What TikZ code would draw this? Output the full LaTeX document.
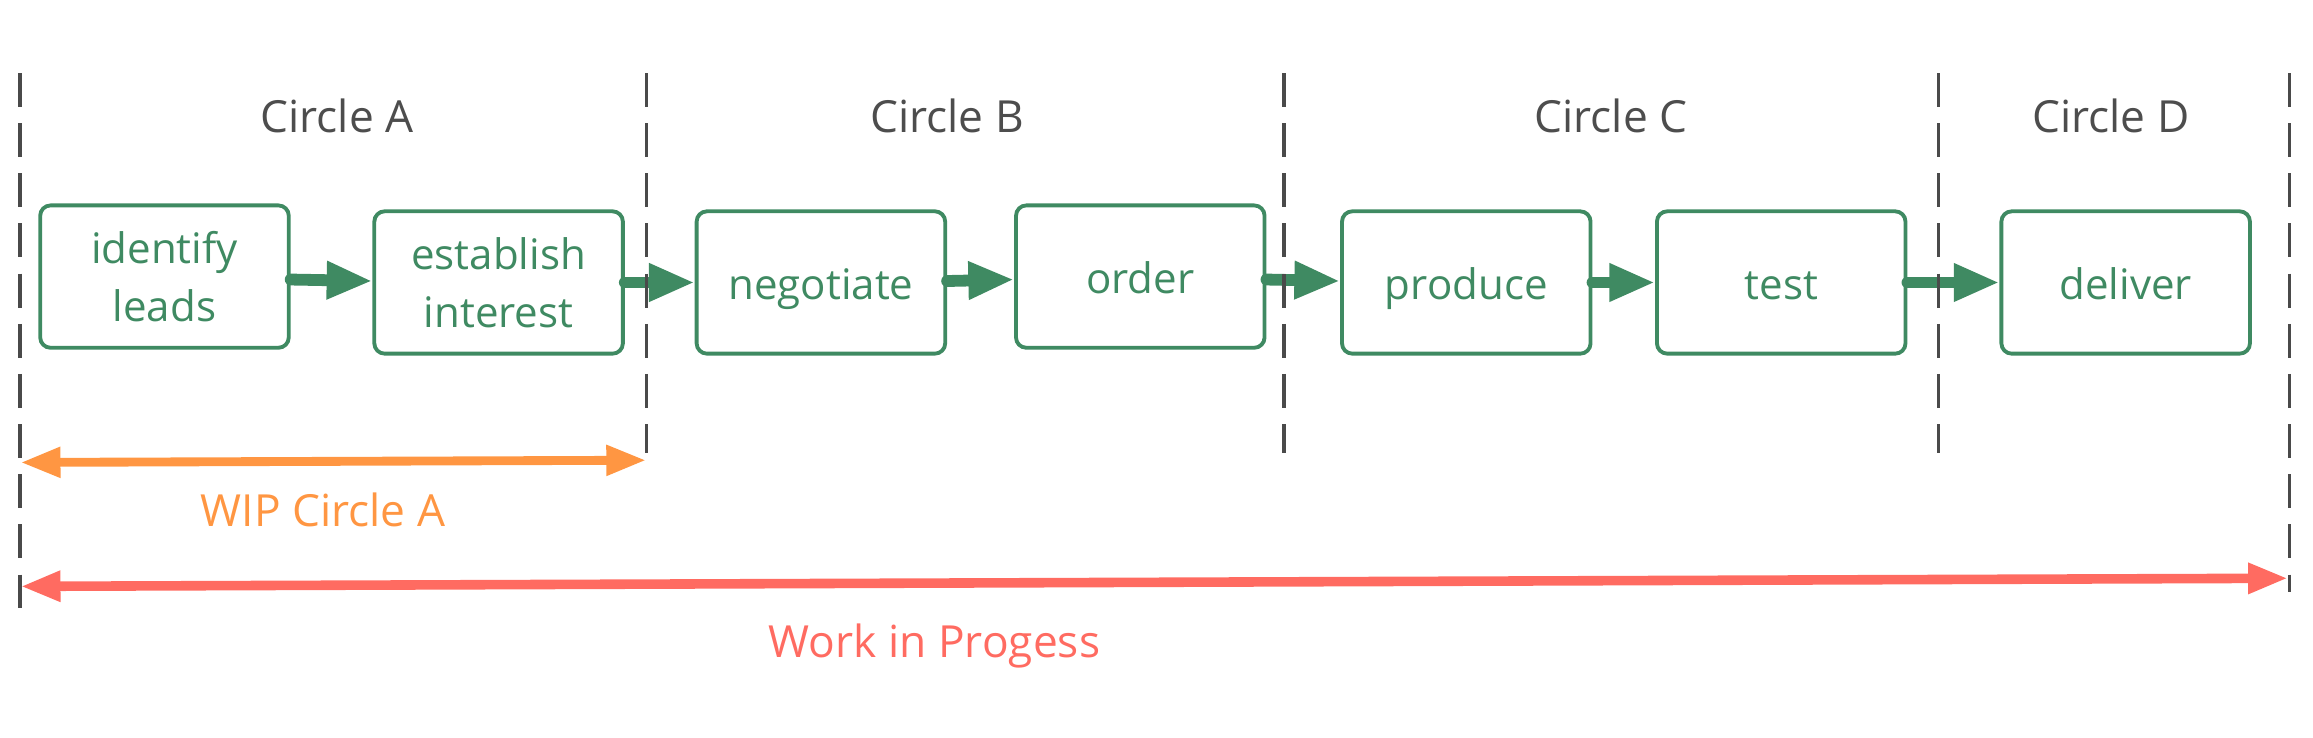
\documentclass[tikz,border=0pt]{standalone}
\usepackage{fontspec}
\setmainfont{Open Sans}
\usetikzlibrary{arrows.meta}
\definecolor{boxgreen}{HTML}{3F8A62}
\definecolor{circgray}{HTML}{4D4D4D}
\definecolor{dashgray}{HTML}{4A4A4A}
\definecolor{wiporange}{HTML}{FF9642}
\definecolor{wipred}{HTML}{FF6B61}
\begin{document}
\begin{tikzpicture}[x=1pt,y=-1pt,
  stepbox/.style={draw=boxgreen, line width=2.6pt, rounded corners=7pt, fill=white,
    minimum width=168.5pt, minimum height=96.5pt, inner sep=0pt, text=boxgreen,
    font=\fontsize{28.5}{39}\selectfont, align=center},
  onebox/.style={stepbox, text height=23pt, text depth=0pt},
  flow/.style={draw=boxgreen, line width=8pt, line cap=round,
    -{Triangle[length=31pt,width=24pt]}},
  divider/.style={draw=dashgray, line width=2.2pt, dash pattern=on 23pt off 11pt},
  circlabel/.style={text=circgray, font=\fontsize{30}{36}\selectfont, anchor=base, inner sep=0pt},
  wiplabel/.style={font=\fontsize{30}{36}\selectfont, anchor=base, inner sep=0pt},
  wiparrow/.style={line width=6pt, {Triangle[length=27pt,width=19.5pt]}-{Triangle[length=27pt,width=19.5pt]}}
]
\useasboundingbox (0,0) rectangle (1568,500);

% circle headings
\node[circlabel] (ca) at (228.5,90) {Circle A};
\node[circlabel] (cb) at (642,90) {Circle B};
\node[circlabel] (cc) at (1092,90) {Circle C};
\node[circlabel] (cd) at (1431,90) {Circle D};

% step boxes
\node[stepbox] (identify) at (111.5,187.5) {identify\\leads};
\node[stepbox] (establish) at (338,191.5) {establish\\interest};
\node[onebox] (negotiate) at (556.5,191.5) {negotiate};
\node[onebox] (order) at (773,187.5) {order};
\node[onebox] (produce) at (994,191.5) {produce};
\node[onebox] (test) at (1207.5,191.5) {test};
\node[onebox] (deliver) at (1441,191.5) {deliver};

% flow arrows
\coordinate (fa) at (0,189.5);
\coordinate (fb) at (0,190.5);
\coordinate (fc) at (0,191.5);
\draw[flow] (identify.east |- fa) -- (establish.west |- fb);
\draw[flow] (establish.east |- fc) -- (negotiate.west |- fc);
\draw[flow] (negotiate.east |- fb) -- (order.west |- fa);
\draw[flow] (order.east |- fa) -- (produce.west |- fb);
\draw[flow] (produce.east |- fc) -- (test.west |- fc);
\draw[flow] (test.east |- fc) -- (deliver.west |- fc);

% dividers
\coordinate (d1t) at (13.5,49.5);  \coordinate (d1b) at (13.5,412);
\coordinate (d2t) at (438.5,49.5); \coordinate (d2b) at (438.5,307);
\coordinate (d3t) at (870.5,49.5); \coordinate (d3b) at (870.5,307);
\coordinate (d4t) at (1314,49.5);  \coordinate (d4b) at (1314,307);
\coordinate (d5t) at (1552,49.5);  \coordinate (d5b) at (1552,401);
\draw[divider] (d1t) -- (d1b);
\draw[divider] (d2t) -- (d2b);
\draw[divider] (d3t) -- (d3b);
\draw[divider] (d4t) -- (d4b);
\draw[divider] (d5t) -- (d5b);

% WIP arrows
\coordinate (wal) at (14,313.5);
\coordinate (war) at (438,312);
\draw[wiparrow, draw=wiporange, fill=wiporange] (wal) -- (war);
\node[wiplabel, text=wiporange] (wiplab) at (219,357) {WIP Circle A};

\coordinate (wpl) at (14,397.5);
\coordinate (wpr) at (1551,392);
\draw[wiparrow, line width=6.5pt, draw=wipred, fill=wipred] (wpl) -- (wpr);
\node[wiplabel, text=wipred] (wiplab2) at (633.5,446) {Work in Progess};
\end{tikzpicture}
\end{document}
